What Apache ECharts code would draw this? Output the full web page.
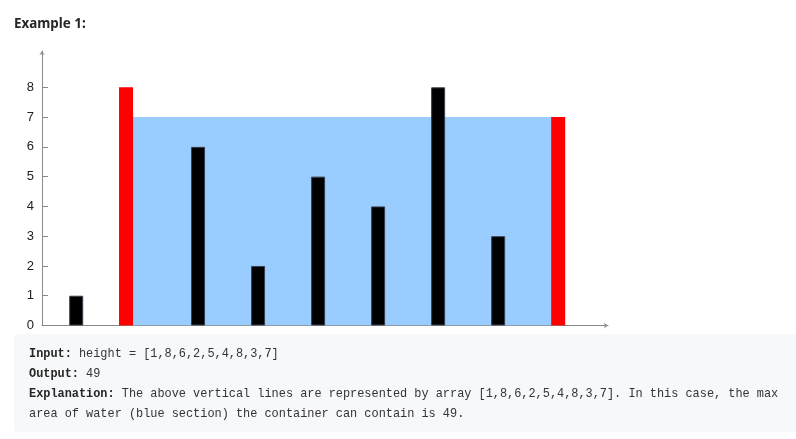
<!DOCTYPE html>
<html>
<head>
<meta charset="utf-8">
<script src="https://cdn.jsdelivr.net/npm/echarts@6/dist/echarts.min.js"></script>
<style>
html,body{margin:0;padding:0;background:#fff;}
#c{width:796px;height:439px;}
</style>
</head>
<body>
<div id="c"></div>
<script>
// ---- data ----
var heights = [1, 8, 6, 2, 5, 4, 8, 3, 7];
var xPositions = [0.57, 1.4, 2.6, 3.6, 4.6, 5.6, 6.6, 7.6, 8.6];
var yTicks = [0, 1, 2, 3, 4, 5, 6, 7, 8];
var titleText = 'Example 1:';

// container with most water (from data)
var best = {area: -1, i: 0, j: 0};
for (var i = 0; i < heights.length; i++) {
  for (var j = i + 1; j < heights.length; j++) {
    var a = Math.min(heights[i], heights[j]) * (j - i);
    if (a > best.area) best = {area: a, i: i, j: j};
  }
}
var waterLevel = Math.min(heights[best.i], heights[best.j]);

var barData = heights.map(function (h, k) {
  var red = (k === best.i || k === best.j);
  return {
    value: [xPositions[k], h],
    itemStyle: red ? {color: '#FF0000', borderWidth: 0}
                   : {color: '#000000', borderColor: '#3a3f4a', borderWidth: 1}
  };
});
var waterData = [[xPositions[best.i], waterLevel], [xPositions[best.j], waterLevel]];

var arrStr = '[' + heights.join(',') + ']';
var mono = '"Liberation Mono", "DejaVu Sans Mono", monospace';
var fs = 11.9;
var rich = {
  b: {fontWeight: 'bold', fill: '#262626', fontFamily: mono, fontSize: fs},
  n: {fill: '#333338', fontFamily: mono, fontSize: fs}
};
var lines = [
  '{b|Input:}{n| height = ' + arrStr + '}',
  '{b|Output:}{n| ' + best.area + '}',
  '{b|Explanation:}{n| The above vertical lines are represented by array ' + arrStr + '. In this case, the max}',
  '{n|area of water (blue section) the container can contain is ' + best.area + '.}'
];
var lineY = [354, 374, 394, 414];

var graphics = [
  {type: 'rect', shape: {x: 14, y: 334, width: 782, height: 98, r: 4}, style: {fill: '#F7F8FA'}, z: -1}
];
lines.forEach(function (t, k) {
  graphics.push({
    type: 'text', x: 29, y: lineY[k],
    style: {text: t, rich: rich, fontFamily: mono, fontSize: fs, verticalAlign: 'middle', fill: '#333338'}
  });
});
graphics.push({
  type: 'text', x: 14, y: 24,
  style: {text: titleText, fontFamily: '"Noto Sans", "Open Sans", sans-serif', fontWeight: 'bold', fontSize: 13.4, fill: '#262626', verticalAlign: 'middle'}
});

var chart = echarts.init(document.getElementById('c'), null, {renderer: 'canvas'});
chart.setOption({
  animation: false,
  backgroundColor: '#ffffff',
  grid: {left: 42, right: 188, top: 51, bottom: 113.5, containLabel: false},
  xAxis: {
    type: 'value', min: 0, max: 9.43,
    axisLine: {show: true, symbol: ['none', 'arrow'], symbolSize: [4, 4], lineStyle: {color: '#8a8a8a', width: 1}},
    axisTick: {show: false}, axisLabel: {show: false}, splitLine: {show: false}
  },
  yAxis: {
    type: 'value', min: 0, max: 9.22,
    axisLine: {show: true, symbol: ['none', 'arrow'], symbolSize: [4, 4], lineStyle: {color: '#8a8a8a', width: 1}},
    axisTick: {show: true, inside: true, length: 6, customValues: yTicks, lineStyle: {color: '#8a8a8a'}},
    axisLabel: {show: true, customValues: yTicks, margin: 8, fontSize: 13, color: '#222', fontFamily: '"Liberation Sans", Arial, sans-serif'},
    splitLine: {show: false}
  },
  graphic: graphics,
  series: [
    {
      type: 'line', data: waterData, symbol: 'none', z: 1,
      lineStyle: {width: 0}, areaStyle: {color: '#99CCFF', opacity: 1}
    },
    {
      type: 'bar', data: barData, barWidth: 14, z: 3
    }
  ]
});
</script>
</body>
</html>
